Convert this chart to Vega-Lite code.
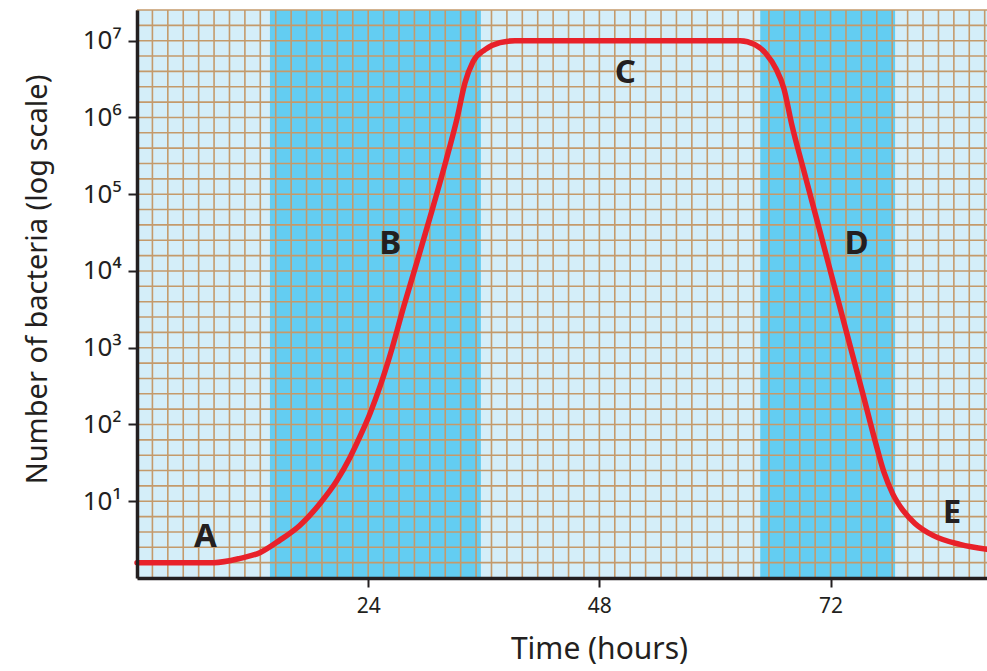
{
  "$schema": "https://vega.github.io/schema/vega-lite/v6.json",
  "autosize": "none",
  "padding": {"left": 137, "top": 10, "right": 0, "bottom": 93},
  "width": 850,
  "height": 568,
  "background": "white",
  "config": {
    "view": {"stroke": null, "fill": "#d4eef9"},
    "font": "Noto Sans"
  },
  "datasets": {
    "bands": [
      {"start": 13.8, "end": 35.7},
      {"start": 64.7, "end": 78.7}
    ],
    "hourGrid": [
      {"hours": 0}, {"hours": 1.6}, {"hours": 3.2}, {"hours": 4.8}, {"hours": 6.4}, {"hours": 8}, {"hours": 9.6}, {"hours": 11.2}, {"hours": 12.8}, {"hours": 14.4},
      {"hours": 16}, {"hours": 17.6}, {"hours": 19.2}, {"hours": 20.8}, {"hours": 22.4}, {"hours": 24}, {"hours": 25.6}, {"hours": 27.2}, {"hours": 28.8}, {"hours": 30.4},
      {"hours": 32}, {"hours": 33.6}, {"hours": 35.2}, {"hours": 36.8}, {"hours": 38.4}, {"hours": 40}, {"hours": 41.6}, {"hours": 43.2}, {"hours": 44.8}, {"hours": 46.4},
      {"hours": 48}, {"hours": 49.6}, {"hours": 51.2}, {"hours": 52.8}, {"hours": 54.4}, {"hours": 56}, {"hours": 57.6}, {"hours": 59.2}, {"hours": 60.8}, {"hours": 62.4},
      {"hours": 64}, {"hours": 65.6}, {"hours": 67.2}, {"hours": 68.8}, {"hours": 70.4}, {"hours": 72}, {"hours": 73.6}, {"hours": 75.2}, {"hours": 76.8}, {"hours": 78.4},
      {"hours": 80}, {"hours": 81.6}, {"hours": 83.2}, {"hours": 84.8}, {"hours": 86.4}, {"hours": 88}
    ],
    "countGrid": [
      {"bacteria": 1}, {"bacteria": 1.58489}, {"bacteria": 2.51189}, {"bacteria": 3.98107}, {"bacteria": 6.30957},
      {"bacteria": 10}, {"bacteria": 15.8489}, {"bacteria": 25.1189}, {"bacteria": 39.8107}, {"bacteria": 63.0957},
      {"bacteria": 100}, {"bacteria": 158.489}, {"bacteria": 251.189}, {"bacteria": 398.107}, {"bacteria": 630.957},
      {"bacteria": 1000}, {"bacteria": 1584.89}, {"bacteria": 2511.89}, {"bacteria": 3981.07}, {"bacteria": 6309.57},
      {"bacteria": 10000}, {"bacteria": 15848.9}, {"bacteria": 25118.9}, {"bacteria": 39810.7}, {"bacteria": 63095.7},
      {"bacteria": 100000}, {"bacteria": 158489}, {"bacteria": 251189}, {"bacteria": 398107}, {"bacteria": 630957},
      {"bacteria": 1000000}, {"bacteria": 1584890}, {"bacteria": 2511890}, {"bacteria": 3981070}, {"bacteria": 6309570},
      {"bacteria": 10000000}, {"bacteria": 15848900}, {"bacteria": 25118864}
    ],
    "curve": [
      {"hours": 0, "bacteria": 1.585},
      {"hours": 8, "bacteria": 1.585},
      {"hours": 10.7, "bacteria": 1.8},
      {"hours": 12.8, "bacteria": 2.15},
      {"hours": 14.8, "bacteria": 3.09},
      {"hours": 16.9, "bacteria": 4.84},
      {"hours": 19.0, "bacteria": 9.35},
      {"hours": 20.76, "bacteria": 18.7},
      {"hours": 22.11, "bacteria": 37.2},
      {"hours": 23.15, "bacteria": 69.8},
      {"hours": 24.19, "bacteria": 139},
      {"hours": 25.23, "bacteria": 313},
      {"hours": 26.26, "bacteria": 791},
      {"hours": 27.72, "bacteria": 3540},
      {"hours": 29.17, "bacteria": 14500},
      {"hours": 30.62, "bacteria": 61100},
      {"hours": 32.08, "bacteria": 274000},
      {"hours": 33.22, "bacteria": 964000},
      {"hours": 34.05, "bacteria": 2840000},
      {"hours": 34.88, "bacteria": 5330000},
      {"hours": 36.13, "bacteria": 7640000},
      {"hours": 37.68, "bacteria": 9420000},
      {"hours": 39.24, "bacteria": 10000000},
      {"hours": 62.6, "bacteria": 10000000},
      {"hours": 64.15, "bacteria": 8870000},
      {"hours": 65.3, "bacteria": 6780000},
      {"hours": 66.33, "bacteria": 4320000},
      {"hours": 67.16, "bacteria": 2370000},
      {"hours": 68.0, "bacteria": 781000},
      {"hours": 69.14, "bacteria": 222000},
      {"hours": 70.9, "bacteria": 32600},
      {"hours": 72.46, "bacteria": 5900},
      {"hours": 74.02, "bacteria": 1069},
      {"hours": 75.37, "bacteria": 246},
      {"hours": 76.61, "bacteria": 61.9},
      {"hours": 77.55, "bacteria": 23.7},
      {"hours": 78.48, "bacteria": 12.3},
      {"hours": 79.52, "bacteria": 7.59},
      {"hours": 80.76, "bacteria": 5.14},
      {"hours": 82.63, "bacteria": 3.59},
      {"hours": 85.43, "bacteria": 2.74},
      {"hours": 88.24, "bacteria": 2.36}
    ],
    "labels": [
      {"hours": 7.1, "bacteria": 3.38, "phase": "A"},
      {"hours": 26.3, "bacteria": 22750, "phase": "B"},
      {"hours": 50.7, "bacteria": 3830000, "phase": "C"},
      {"hours": 74.7, "bacteria": 22750, "phase": "D"},
      {"hours": 84.6, "bacteria": 6.93, "phase": "E"}
    ]
  },
  "layer": [
    {
      "data": {"name": "bands"},
      "mark": {"type": "rect", "color": "#63cdf2"},
      "encoding": {
        "x": {"field": "start", "type": "quantitative", "scale": {"domain": [0, 88.24], "nice": false, "zero": false}},
        "x2": {"field": "end"}
      }
    },
    {
      "data": {"name": "hourGrid"},
      "mark": {"type": "rule", "color": "#c49a6b", "strokeWidth": 1.6},
      "encoding": {
        "x": {"field": "hours", "type": "quantitative", "scale": {"domain": [0, 88.24], "nice": false, "zero": false}}
      }
    },
    {
      "data": {"name": "countGrid"},
      "mark": {"type": "rule", "color": "#c49a6b", "strokeWidth": 1.6},
      "encoding": {
        "y": {"field": "bacteria", "type": "quantitative", "scale": {"type": "log", "domain": [1, 25118864], "nice": false, "zero": false}}
      }
    },
    {
      "data": {"name": "curve"},
      "mark": {"type": "line", "color": "#e8212a", "strokeWidth": 5.5, "interpolate": "monotone", "strokeCap": "round", "strokeJoin": "round"},
      "encoding": {
        "x": {
          "field": "hours", "type": "quantitative",
          "scale": {"domain": [0, 88.24], "nice": false, "zero": false},
          "axis": {
            "title": "Time (hours)",
            "zindex": 1,
            "values": [24, 48, 72],
            "format": "d",
            "grid": false,
            "domainColor": "#231f20",
            "domainWidth": 3.5,
            "tickColor": "#231f20",
            "tickWidth": 2,
            "tickSize": 9,
            "labelFontSize": 21,
            "labelColor": "#231f20",
            "labelPadding": 8,
            "labelFlush": false,
            "labelOverlap": false,
            "titleFontSize": 30,
            "titleFontWeight": "normal",
            "titleColor": "#231f20",
            "titlePadding": 18,
            "titleX": 462,
            "titleAlign": "center"
          }
        },
        "y": {
          "field": "bacteria", "type": "quantitative",
          "scale": {"type": "log", "domain": [1, 25118864], "nice": false, "zero": false},
          "axis": {
            "title": "Number of bacteria (log scale)",
            "zindex": 1,
            "values": [10, 100, 1000, 10000, 100000, 1000000, 10000000],
            "labelExpr": "'10' + ['⁰','¹','²','³','⁴','⁵','⁶','⁷'][round(log(datum.value)/LN10)]",
            "grid": false,
            "domainColor": "#231f20",
            "domainWidth": 3.5,
            "tickColor": "#231f20",
            "tickWidth": 2,
            "tickSize": 9,
            "labelFontSize": 26,
            "labelColor": "#231f20",
            "labelPadding": 7,
            "labelFlush": false,
            "labelOverlap": false,
            "titleFontSize": 29,
            "titleFontWeight": "normal",
            "titleColor": "#231f20",
            "titlePadding": 30,
            "titleY": 269,
            "titleAlign": "center"
          }
        }
      }
    },
    {
      "data": {"name": "labels"},
      "mark": {"type": "text", "fontSize": 33, "fontWeight": "bold", "color": "#231f20", "align": "center", "baseline": "middle"},
      "encoding": {
        "x": {"field": "hours", "type": "quantitative", "scale": {"domain": [0, 88.24], "nice": false, "zero": false}},
        "y": {"field": "bacteria", "type": "quantitative", "scale": {"type": "log", "domain": [1, 25118864], "nice": false, "zero": false}},
        "text": {"field": "phase"}
      }
    }
  ]
}
